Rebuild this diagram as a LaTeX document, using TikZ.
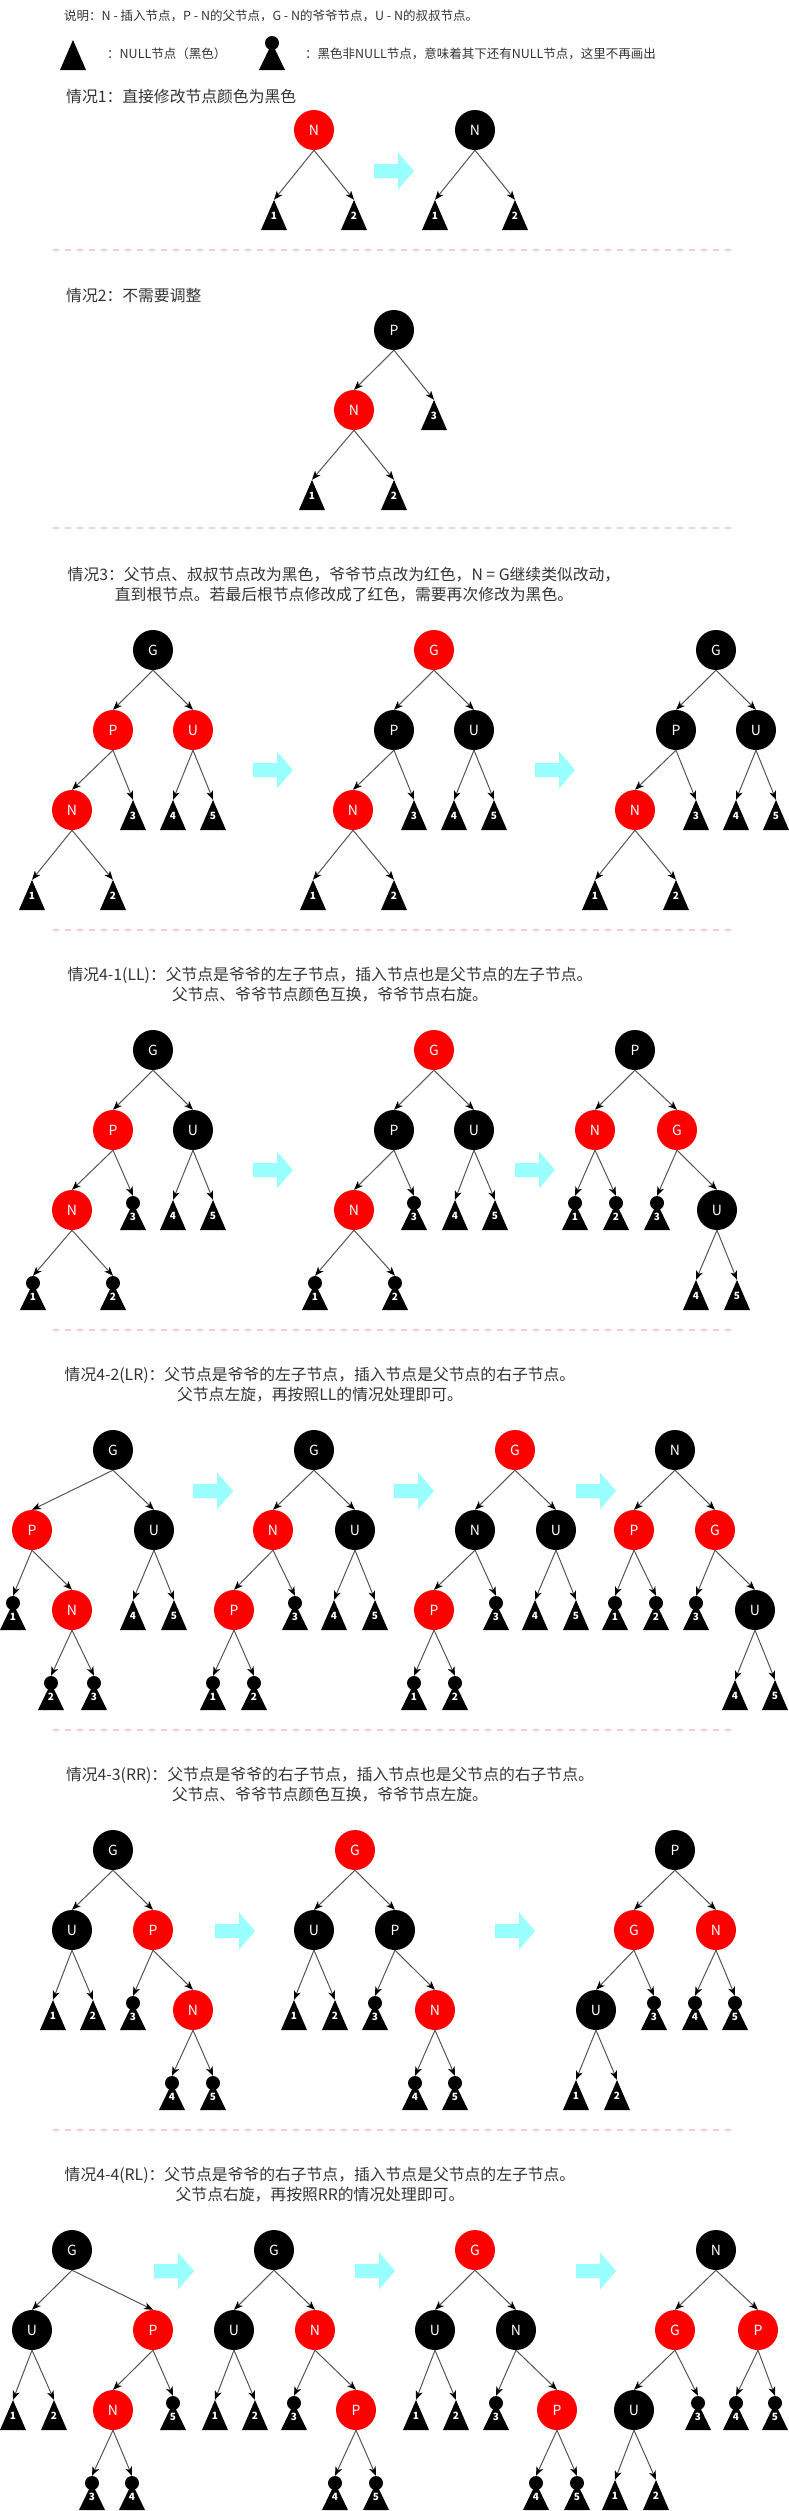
\documentclass[tikz,border=0pt]{standalone}
\usepackage{fontspec}
\setmainfont{Noto Sans CJK SC}
\usepackage{tikz}
\usetikzlibrary{arrows.meta, positioning}
\usepackage{xcolor}

\definecolor{texto}{HTML}{333333}
\definecolor{rojo}{HTML}{FF0000}
\definecolor{cian}{HTML}{99FFFF}
\definecolor{rosa}{HTML}{F2CEDE}
\definecolor{linea}{HTML}{555555}

\begin{document}
\begin{tikzpicture}[
        x=1pt, y=1pt,
        nodorojo/.style={
            circle,
            fill=rojo,
            minimum size=40pt,
            inner sep=0pt,
            text=white,
            font=\fontsize{14}{14}\selectfont
        },
        nodonegro/.style={
            nodorojo,
            fill=black
        },
        hoja/.style={
            rectangle,
            minimum width=26pt,
            inner sep=0pt,
            text=white,
            text depth=0pt,
            font=\fontsize{10}{10}\selectfont\bfseries
        },
        nulo/.style={
            hoja,
            minimum height=30pt,
            text height=9pt,
            path picture={
                \fill[black] (path picture bounding box.south west) --
                    (path picture bounding box.south east) --
                    (path picture bounding box.north) -- cycle;
            }
        },
        subarbol/.style={
            hoja,
            minimum height=34pt,
            text height=15pt,
            path picture={
                \fill[black] (path picture bounding box.south west) --
                    (path picture bounding box.south east) --
                    ([yshift=-7pt]path picture bounding box.north) -- cycle;
                \fill[black] ([yshift=-7pt]path picture bounding box.north) circle[radius=7pt];
            }
        },
        flecha/.style={
            draw=linea,
            line width=1pt,
            -{Stealth[length=9pt,width=7pt,inset=2.5pt,color=black]}
        },
        titulo/.style={
            font=\fontsize{15.8}{20}\selectfont,
            text=texto,
            align=center,
            inner sep=0pt
        },
        nota/.style={
            font=\fontsize{12.5}{15}\selectfont,
            text=texto,
            inner sep=0pt
        },
        separador/.style={
            draw=rosa,
            line width=2pt,
            dash pattern=on 6pt off 6pt
        },
        cambio/.pic={
            \fill[cian] (0,-7) -- (24,-7) -- (24,-18.5) -- (40,0) --
                (24,18.5) -- (24,7) -- (0,7) -- cycle;
        }
    ]

    \useasboundingbox (0,0) rectangle (788,-2511);

    % leyenda
    \node[nota, anchor=west] (leyenda) at (64,-16)
        {说明：N - 插入节点，P - N的父节点，G - N的爷爷节点，U - N的叔叔节点。};
    \node[nulo] (leyNulo) at (73,-55) {};
    \node[nota, anchor=west] (leyNuloTxt) at (107,-54) {：NULL节点（黑色）};
    \node[subarbol] (leySub) at (272,-53) {};
    \node[nota, anchor=west] (leySubTxt) at (305,-54)
        {：黑色非NULL节点，意味着其下还有NULL节点，这里不再画出};

    % caso 1
    \node[titulo, anchor=west] (tit1) at (66,-97) {情况1：直接修改节点颜色为黑色};

    \node[nodorojo] (c1aN) at (314,-130) {N};
    \node[nulo] (c1a1) at (274,-215) {1};
    \node[nulo] (c1a2) at (354,-215) {2};
    \path (c1aN.south) edge[flecha] (c1a1.north) edge[flecha] (c1a2.north);

    \pic at (374,-171) {cambio};

    \node[nodonegro] (c1bN) at (475,-130) {N};
    \node[nulo] (c1b1) at (435,-215) {1};
    \node[nulo] (c1b2) at (515,-215) {2};
    \path (c1bN.south) edge[flecha] (c1b1.north) edge[flecha] (c1b2.north);

    \draw[separador] (53,-250) -- (735,-250);

    % caso 2
    \node[titulo, anchor=west] (tit2) at (66,-295) {情况2：不需要调整};

    \node[nodonegro] (c2P) at (394,-330) {P};
    \node[nodorojo] (c2N) at (354,-410) {N};
    \node[nulo] (c23) at (434,-415) {3};
    \node[nulo] (c21) at (312,-495) {1};
    \node[nulo] (c22) at (394,-495) {2};
    \path (c2P.south) edge[flecha] (c2N.north) edge[flecha] (c23.north);
    \path (c2N.south) edge[flecha] (c21.north) edge[flecha] (c22.north);

    \draw[separador] (53,-528) -- (735,-528);

    % caso 3
    \node[titulo] (tit3) at (344,-585)
        {情况3：父节点、叔叔节点改为黑色，爷爷节点改为红色，N = G继续类似改动，\\
         直到根节点。若最后根节点修改成了红色，需要再次修改为黑色。};

    \node[nodonegro] (c3aG) at (153,-650) {G};
    \node[nodorojo] (c3aP) at (113,-730) {P};
    \node[nodorojo] (c3aU) at (193,-730) {U};
    \node[nodorojo] (c3aN) at (72,-810) {N};
    \node[nulo] (c3a3) at (133,-815) {3};
    \node[nulo] (c3a4) at (173,-815) {4};
    \node[nulo] (c3a5) at (213,-815) {5};
    \node[nulo] (c3a1) at (32,-895) {1};
    \node[nulo] (c3a2) at (113,-895) {2};
    \path (c3aG.south) edge[flecha] (c3aP.north) edge[flecha] (c3aU.north);
    \path (c3aP.south) edge[flecha] (c3aN.north) edge[flecha] (c3a3.north);
    \path (c3aU.south) edge[flecha] (c3a4.north) edge[flecha] (c3a5.north);
    \path (c3aN.south) edge[flecha] (c3a1.north) edge[flecha] (c3a2.north);

    \pic at (253,-770) {cambio};

    \node[nodorojo] (c3bG) at (434,-650) {G};
    \node[nodonegro] (c3bP) at (394,-730) {P};
    \node[nodonegro] (c3bU) at (474,-730) {U};
    \node[nodorojo] (c3bN) at (353,-810) {N};
    \node[nulo] (c3b3) at (414,-815) {3};
    \node[nulo] (c3b4) at (454,-815) {4};
    \node[nulo] (c3b5) at (494,-815) {5};
    \node[nulo] (c3b1) at (313,-895) {1};
    \node[nulo] (c3b2) at (394,-895) {2};
    \path (c3bG.south) edge[flecha] (c3bP.north) edge[flecha] (c3bU.north);
    \path (c3bP.south) edge[flecha] (c3bN.north) edge[flecha] (c3b3.north);
    \path (c3bU.south) edge[flecha] (c3b4.north) edge[flecha] (c3b5.north);
    \path (c3bN.south) edge[flecha] (c3b1.north) edge[flecha] (c3b2.north);

    \pic at (535,-770) {cambio};

    \node[nodonegro] (c3cG) at (716,-650) {G};
    \node[nodonegro] (c3cP) at (676,-730) {P};
    \node[nodonegro] (c3cU) at (756,-730) {U};
    \node[nodorojo] (c3cN) at (635,-810) {N};
    \node[nulo] (c3c3) at (696,-815) {3};
    \node[nulo] (c3c4) at (736,-815) {4};
    \node[nulo] (c3c5) at (776,-815) {5};
    \node[nulo] (c3c1) at (595,-895) {1};
    \node[nulo] (c3c2) at (676,-895) {2};
    \path (c3cG.south) edge[flecha] (c3cP.north) edge[flecha] (c3cU.north);
    \path (c3cP.south) edge[flecha] (c3cN.north) edge[flecha] (c3c3.north);
    \path (c3cU.south) edge[flecha] (c3c4.north) edge[flecha] (c3c5.north);
    \path (c3cN.south) edge[flecha] (c3c1.north) edge[flecha] (c3c2.north);

    \draw[separador] (53,-930) -- (735,-930);

    % caso 4-1 (LL)
    \node[titulo] (titLL) at (330,-985)
        {情况4-1(LL)：父节点是爷爷的左子节点，插入节点也是父节点的左子节点。\\
         父节点、爷爷节点颜色互换，爷爷节点右旋。};

    \node[nodonegro] (cLLaG) at (153,-1050) {G};
    \node[nodorojo] (cLLaP) at (113,-1130) {P};
    \node[nodonegro] (cLLaU) at (193,-1130) {U};
    \node[nodorojo] (cLLaN) at (72,-1210) {N};
    \node[subarbol] (cLLa3) at (133,-1213) {3};
    \node[nulo] (cLLa4) at (173,-1215) {4};
    \node[nulo] (cLLa5) at (213,-1215) {5};
    \node[subarbol] (cLLa1) at (33,-1293) {1};
    \node[subarbol] (cLLa2) at (113,-1293) {2};
    \path (cLLaG.south) edge[flecha] (cLLaP.north) edge[flecha] (cLLaU.north);
    \path (cLLaP.south) edge[flecha] (cLLaN.north) edge[flecha] (cLLa3.north);
    \path (cLLaU.south) edge[flecha] (cLLa4.north) edge[flecha] (cLLa5.north);
    \path (cLLaN.south) edge[flecha] (cLLa1.north) edge[flecha] (cLLa2.north);

    \pic at (253,-1170) {cambio};

    \node[nodorojo] (cLLbG) at (434,-1050) {G};
    \node[nodonegro] (cLLbP) at (394,-1130) {P};
    \node[nodonegro] (cLLbU) at (474,-1130) {U};
    \node[nodorojo] (cLLbN) at (354,-1210) {N};
    \node[subarbol] (cLLb3) at (414,-1213) {3};
    \node[nulo] (cLLb4) at (455,-1215) {4};
    \node[nulo] (cLLb5) at (495,-1215) {5};
    \node[subarbol] (cLLb1) at (315,-1293) {1};
    \node[subarbol] (cLLb2) at (395,-1293) {2};
    \path (cLLbG.south) edge[flecha] (cLLbP.north) edge[flecha] (cLLbU.north);
    \path (cLLbP.south) edge[flecha] (cLLbN.north) edge[flecha] (cLLb3.north);
    \path (cLLbU.south) edge[flecha] (cLLb4.north) edge[flecha] (cLLb5.north);
    \path (cLLbN.south) edge[flecha] (cLLb1.north) edge[flecha] (cLLb2.north);

    \pic at (515,-1170) {cambio};

    \node[nodonegro] (cLLcP) at (635,-1050) {P};
    \node[nodorojo] (cLLcN) at (595,-1130) {N};
    \node[nodorojo] (cLLcG) at (677,-1130) {G};
    \node[subarbol] (cLLc1) at (575,-1213) {1};
    \node[subarbol] (cLLc2) at (616,-1213) {2};
    \node[subarbol] (cLLc3) at (657,-1213) {3};
    \node[nodonegro] (cLLcU) at (717,-1210) {U};
    \node[nulo] (cLLc4) at (696,-1295) {4};
    \node[nulo] (cLLc5) at (737,-1295) {5};
    \path (cLLcP.south) edge[flecha] (cLLcN.north) edge[flecha] (cLLcG.north);
    \path (cLLcN.south) edge[flecha] (cLLc1.north) edge[flecha] (cLLc2.north);
    \path (cLLcG.south) edge[flecha] (cLLc3.north) edge[flecha] (cLLcU.north);
    \path (cLLcU.south) edge[flecha] (cLLc4.north) edge[flecha] (cLLc5.north);

    \draw[separador] (53,-1330) -- (735,-1330);

    % caso 4-2 (LR)
    \node[titulo] (titLR) at (320,-1385)
        {情况4-2(LR)：父节点是爷爷的左子节点，插入节点是父节点的右子节点。\\
         父节点左旋，再按照LL的情况处理即可。};

    \node[nodonegro] (cLRaG) at (113,-1450) {G};
    \node[nodorojo] (cLRaP) at (32,-1530) {P};
    \node[nodonegro] (cLRaU) at (154,-1530) {U};
    \node[subarbol] (cLRa1) at (13,-1613) {1};
    \node[nodorojo] (cLRaN) at (72,-1610) {N};
    \node[nulo] (cLRa4) at (133,-1615) {4};
    \node[nulo] (cLRa5) at (174,-1615) {5};
    \node[subarbol] (cLRa2) at (51,-1693) {2};
    \node[subarbol] (cLRa3) at (94,-1693) {3};
    \path (cLRaG.south) edge[flecha] (cLRaP.north) edge[flecha] (cLRaU.north);
    \path (cLRaP.south) edge[flecha] (cLRa1.north) edge[flecha] (cLRaN.north);
    \path (cLRaU.south) edge[flecha] (cLRa4.north) edge[flecha] (cLRa5.north);
    \path (cLRaN.south) edge[flecha] (cLRa2.north) edge[flecha] (cLRa3.north);

    \pic at (193,-1491) {cambio};

    \node[nodonegro] (cLRbG) at (314,-1450) {G};
    \node[nodorojo] (cLRbN) at (273,-1530) {N};
    \node[nodonegro] (cLRbU) at (355,-1530) {U};
    \node[nodorojo] (cLRbP) at (234,-1610) {P};
    \node[subarbol] (cLRb3) at (295,-1613) {3};
    \node[nulo] (cLRb4) at (334,-1615) {4};
    \node[nulo] (cLRb5) at (375,-1615) {5};
    \node[subarbol] (cLRb1) at (213,-1693) {1};
    \node[subarbol] (cLRb2) at (254,-1693) {2};
    \path (cLRbG.south) edge[flecha] (cLRbN.north) edge[flecha] (cLRbU.north);
    \path (cLRbN.south) edge[flecha] (cLRbP.north) edge[flecha] (cLRb3.north);
    \path (cLRbU.south) edge[flecha] (cLRb4.north) edge[flecha] (cLRb5.north);
    \path (cLRbP.south) edge[flecha] (cLRb1.north) edge[flecha] (cLRb2.north);

    \pic at (394,-1491) {cambio};

    \node[nodorojo] (cLRcG) at (515,-1450) {G};
    \node[nodonegro] (cLRcN) at (475,-1530) {N};
    \node[nodonegro] (cLRcU) at (556,-1530) {U};
    \node[nodorojo] (cLRcP) at (434,-1610) {P};
    \node[subarbol] (cLRc3) at (496,-1613) {3};
    \node[nulo] (cLRc4) at (535,-1615) {4};
    \node[nulo] (cLRc5) at (576,-1615) {5};
    \node[subarbol] (cLRc1) at (414,-1693) {1};
    \node[subarbol] (cLRc2) at (455,-1693) {2};
    \path (cLRcG.south) edge[flecha] (cLRcN.north) edge[flecha] (cLRcU.north);
    \path (cLRcN.south) edge[flecha] (cLRcP.north) edge[flecha] (cLRc3.north);
    \path (cLRcU.south) edge[flecha] (cLRc4.north) edge[flecha] (cLRc5.north);
    \path (cLRcP.south) edge[flecha] (cLRc1.north) edge[flecha] (cLRc2.north);

    \pic at (576,-1491) {cambio};

    \node[nodonegro] (cLRdN) at (675,-1450) {N};
    \node[nodorojo] (cLRdP) at (634,-1530) {P};
    \node[nodorojo] (cLRdG) at (715,-1530) {G};
    \node[subarbol] (cLRd1) at (615,-1613) {1};
    \node[subarbol] (cLRd2) at (656,-1613) {2};
    \node[subarbol] (cLRd3) at (696,-1613) {3};
    \node[nodonegro] (cLRdU) at (755,-1610) {U};
    \node[nulo] (cLRd4) at (735,-1695) {4};
    \node[nulo] (cLRd5) at (775,-1695) {5};
    \path (cLRdN.south) edge[flecha] (cLRdP.north) edge[flecha] (cLRdG.north);
    \path (cLRdP.south) edge[flecha] (cLRd1.north) edge[flecha] (cLRd2.north);
    \path (cLRdG.south) edge[flecha] (cLRd3.north) edge[flecha] (cLRdU.north);
    \path (cLRdU.south) edge[flecha] (cLRd4.north) edge[flecha] (cLRd5.north);

    \draw[separador] (53,-1730) -- (735,-1730);

    % caso 4-3 (RR)
    \node[titulo] (titRR) at (330,-1785)
        {情况4-3(RR)：父节点是爷爷的右子节点，插入节点也是父节点的右子节点。\\
         父节点、爷爷节点颜色互换，爷爷节点左旋。};

    \node[nodonegro] (cRRaG) at (113,-1850) {G};
    \node[nodonegro] (cRRaU) at (72,-1930) {U};
    \node[nodorojo] (cRRaP) at (153,-1930) {P};
    \node[nulo] (cRRa1) at (53,-2015) {1};
    \node[nulo] (cRRa2) at (93,-2015) {2};
    \node[subarbol] (cRRa3) at (133,-2013) {3};
    \node[nodorojo] (cRRaN) at (193,-2010) {N};
    \node[subarbol] (cRRa4) at (172,-2093) {4};
    \node[subarbol] (cRRa5) at (213,-2093) {5};
    \path (cRRaG.south) edge[flecha] (cRRaU.north) edge[flecha] (cRRaP.north);
    \path (cRRaU.south) edge[flecha] (cRRa1.north) edge[flecha] (cRRa2.north);
    \path (cRRaP.south) edge[flecha] (cRRa3.north) edge[flecha] (cRRaN.north);
    \path (cRRaN.south) edge[flecha] (cRRa4.north) edge[flecha] (cRRa5.north);

    \pic at (215,-1931) {cambio};

    \node[nodorojo] (cRRbG) at (355,-1850) {G};
    \node[nodonegro] (cRRbU) at (314,-1930) {U};
    \node[nodonegro] (cRRbP) at (395,-1930) {P};
    \node[nulo] (cRRb1) at (294,-2015) {1};
    \node[nulo] (cRRb2) at (335,-2015) {2};
    \node[subarbol] (cRRb3) at (375,-2013) {3};
    \node[nodorojo] (cRRbN) at (435,-2010) {N};
    \node[subarbol] (cRRb4) at (415,-2093) {4};
    \node[subarbol] (cRRb5) at (455,-2093) {5};
    \path (cRRbG.south) edge[flecha] (cRRbU.north) edge[flecha] (cRRbP.north);
    \path (cRRbU.south) edge[flecha] (cRRb1.north) edge[flecha] (cRRb2.north);
    \path (cRRbP.south) edge[flecha] (cRRb3.north) edge[flecha] (cRRbN.north);
    \path (cRRbN.south) edge[flecha] (cRRb4.north) edge[flecha] (cRRb5.north);

    \pic at (495,-1931) {cambio};

    \node[nodonegro] (cRRcP) at (675,-1850) {P};
    \node[nodorojo] (cRRcG) at (634,-1930) {G};
    \node[nodorojo] (cRRcN) at (716,-1930) {N};
    \node[nodonegro] (cRRcU) at (596,-2010) {U};
    \node[subarbol] (cRRc3) at (654,-2013) {3};
    \node[subarbol] (cRRc4) at (695,-2013) {4};
    \node[subarbol] (cRRc5) at (735,-2013) {5};
    \node[nulo] (cRRc1) at (576,-2095) {1};
    \node[nulo] (cRRc2) at (617,-2095) {2};
    \path (cRRcP.south) edge[flecha] (cRRcG.north) edge[flecha] (cRRcN.north);
    \path (cRRcG.south) edge[flecha] (cRRcU.north) edge[flecha] (cRRc3.north);
    \path (cRRcN.south) edge[flecha] (cRRc4.north) edge[flecha] (cRRc5.north);
    \path (cRRcU.south) edge[flecha] (cRRc1.north) edge[flecha] (cRRc2.north);

    \draw[separador] (53,-2130) -- (735,-2130);

    % caso 4-4 (RL)
    \node[titulo] (titRL) at (320,-2185)
        {情况4-4(RL)：父节点是爷爷的右子节点，插入节点是父节点的左子节点。\\
         父节点右旋，再按照RR的情况处理即可。};

    \node[nodonegro] (cRLaG) at (72,-2250) {G};
    \node[nodonegro] (cRLaU) at (32,-2330) {U};
    \node[nodorojo] (cRLaP) at (153,-2330) {P};
    \node[nulo] (cRLa1) at (13,-2415) {1};
    \node[nulo] (cRLa2) at (54,-2415) {2};
    \node[nodorojo] (cRLaN) at (113,-2410) {N};
    \node[subarbol] (cRLa5) at (173,-2413) {5};
    \node[subarbol] (cRLa3) at (92,-2493) {3};
    \node[subarbol] (cRLa4) at (132,-2493) {4};
    \path (cRLaG.south) edge[flecha] (cRLaU.north) edge[flecha] (cRLaP.north);
    \path (cRLaU.south) edge[flecha] (cRLa1.north) edge[flecha] (cRLa2.north);
    \path (cRLaP.south) edge[flecha] (cRLaN.north) edge[flecha] (cRLa5.north);
    \path (cRLaN.south) edge[flecha] (cRLa3.north) edge[flecha] (cRLa4.north);

    \pic at (154,-2271) {cambio};

    \node[nodonegro] (cRLbG) at (274,-2250) {G};
    \node[nodonegro] (cRLbU) at (234,-2330) {U};
    \node[nodorojo] (cRLbN) at (315,-2330) {N};
    \node[nulo] (cRLb1) at (215,-2415) {1};
    \node[nulo] (cRLb2) at (255,-2415) {2};
    \node[subarbol] (cRLb3) at (294,-2413) {3};
    \node[nodorojo] (cRLbP) at (356,-2410) {P};
    \node[subarbol] (cRLb4) at (335,-2493) {4};
    \node[subarbol] (cRLb5) at (376,-2493) {5};
    \path (cRLbG.south) edge[flecha] (cRLbU.north) edge[flecha] (cRLbN.north);
    \path (cRLbU.south) edge[flecha] (cRLb1.north) edge[flecha] (cRLb2.north);
    \path (cRLbN.south) edge[flecha] (cRLb3.north) edge[flecha] (cRLbP.north);
    \path (cRLbP.south) edge[flecha] (cRLb4.north) edge[flecha] (cRLb5.north);

    \pic at (355,-2271) {cambio};

    \node[nodorojo] (cRLcG) at (475,-2250) {G};
    \node[nodonegro] (cRLcU) at (435,-2330) {U};
    \node[nodonegro] (cRLcN) at (516,-2330) {N};
    \node[nulo] (cRLc1) at (416,-2415) {1};
    \node[nulo] (cRLc2) at (456,-2415) {2};
    \node[subarbol] (cRLc3) at (496,-2413) {3};
    \node[nodorojo] (cRLcP) at (557,-2410) {P};
    \node[subarbol] (cRLc4) at (536,-2493) {4};
    \node[subarbol] (cRLc5) at (577,-2493) {5};
    \path (cRLcG.south) edge[flecha] (cRLcU.north) edge[flecha] (cRLcN.north);
    \path (cRLcU.south) edge[flecha] (cRLc1.north) edge[flecha] (cRLc2.north);
    \path (cRLcN.south) edge[flecha] (cRLc3.north) edge[flecha] (cRLcP.north);
    \path (cRLcP.south) edge[flecha] (cRLc4.north) edge[flecha] (cRLc5.north);

    \pic at (576,-2271) {cambio};

    \node[nodonegro] (cRLdN) at (716,-2250) {N};
    \node[nodorojo] (cRLdG) at (675,-2330) {G};
    \node[nodorojo] (cRLdP) at (758,-2330) {P};
    \node[nodonegro] (cRLdU) at (634,-2410) {U};
    \node[subarbol] (cRLd3) at (698,-2413) {3};
    \node[subarbol] (cRLd4) at (736,-2413) {4};
    \node[subarbol] (cRLd5) at (775,-2413) {5};
    \node[nulo] (cRLd1) at (615,-2495) {1};
    \node[nulo] (cRLd2) at (656,-2495) {2};
    \path (cRLdN.south) edge[flecha] (cRLdG.north) edge[flecha] (cRLdP.north);
    \path (cRLdG.south) edge[flecha] (cRLdU.north) edge[flecha] (cRLd3.north);
    \path (cRLdP.south) edge[flecha] (cRLd4.north) edge[flecha] (cRLd5.north);
    \path (cRLdU.south) edge[flecha] (cRLd1.north) edge[flecha] (cRLd2.north);

    \end{tikzpicture}
\end{document}
